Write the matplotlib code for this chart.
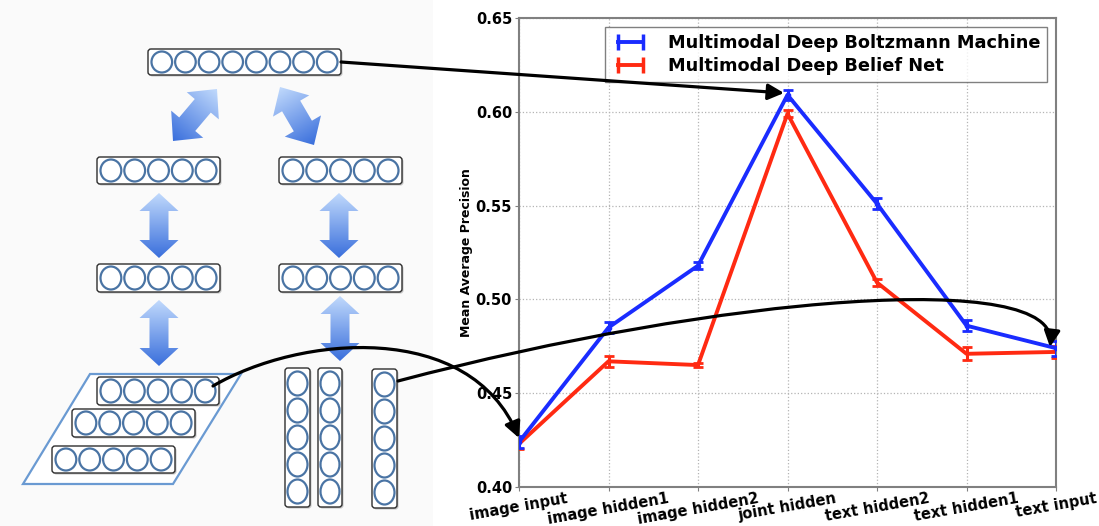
import numpy as np
import matplotlib
matplotlib.use("Agg")
import matplotlib.pyplot as plt
from matplotlib.patches import FancyBboxPatch, Ellipse, Polygon, Rectangle, FancyArrowPatch
from matplotlib.path import Path
from matplotlib.lines import Line2D
from matplotlib.colors import LinearSegmentedColormap

# data
layers = ["image input", "image hidden1", "image hidden2", "joint hidden",
          "text hidden2", "text hidden1", "text input"]
dbm_map = [0.424, 0.485, 0.518, 0.609, 0.551, 0.486, 0.474]
dbm_err = [0.003, 0.003, 0.002, 0.0025, 0.003, 0.003, 0.004]
dbn_map = [0.423, 0.467, 0.465, 0.599, 0.509, 0.471, 0.472]
dbn_err = [0.003, 0.003, 0.001, 0.002, 0.002, 0.0035, 0.003]
yticks = [0.40, 0.45, 0.50, 0.55, 0.60, 0.65]

W, H = 1099, 526
fig = plt.figure(figsize=(W / 100, H / 100), dpi=100)
fig.patch.set_facecolor("white")

blue, red = "#1a2cff", "#ff2a12"

# ---- chart on the right ----
ax = fig.add_axes([519 / W, 1 - 487 / H, (1056 - 519) / W, (487 - 18) / H])
x = np.arange(len(layers))
ax.errorbar(x, dbm_map, yerr=dbm_err, color=blue, lw=2.8, elinewidth=2.2,
            capsize=3.5, capthick=2, marker="o", markersize=3, zorder=4)
ax.errorbar(x, dbn_map, yerr=dbn_err, color=red, lw=2.8, elinewidth=2.2,
            capsize=3.5, capthick=2, zorder=3)
ax.set_xlim(0, len(layers) - 1)
ax.set_ylim(0.40, 0.65)
ax.set_yticks(yticks)
ax.set_yticklabels([f"{v:.2f}" for v in yticks], fontsize=10.5, fontweight="bold")
ax.set_xticks(x)
ax.set_xticklabels(layers, rotation=10, fontsize=10.5, fontweight="bold", ha="center")
ax.set_ylabel("Mean Average Precision", fontsize=9, fontweight="bold", labelpad=2)
ax.grid(True, linestyle=":", color="#b4b4b4", lw=0.9)
for s in ax.spines.values():
    s.set_color("#808080")
    s.set_linewidth(1.5)
ax.tick_params(length=3, color="#808080", pad=2)
ax.tick_params(axis="x", pad=0)

# legend handles drawn as |---| like the reference
h_dbm = Line2D([], [], color=blue, lw=2.8, marker="|", markersize=12, mew=2.5)
h_dbn = Line2D([], [], color=red, lw=2.8, marker="|", markersize=12, mew=2.5)
leg = ax.legend([h_dbm, h_dbn],
                ["Multimodal Deep Boltzmann Machine", "Multimodal Deep Belief Net"],
                loc="upper right", numpoints=2, prop={"weight": "bold", "size": 12.8},
                fancybox=False, borderaxespad=0.5, handlelength=2.0,
                handletextpad=1.1, borderpad=0.4, labelspacing=0.3)
leg.get_frame().set_edgecolor("#606060")
leg.get_frame().set_linewidth(1.0)

# ---- diagram overlay (pixel coordinates) ----
ov = fig.add_axes([0, 0, 1, 1], zorder=5)
ov.set_xlim(0, W)
ov.set_ylim(H, 0)
ov.axis("off")
ov.patch.set_alpha(0)
ov.add_patch(Rectangle((0, 0), 433, H, facecolor="#fafafa", edgecolor="none", zorder=0))

circ_col = "#4a74a4"


def unit_row(x0, y0, x1, y1, n, vertical=False):
    ov.add_patch(FancyBboxPatch((x0 + 1.5, y0 + 1.5), x1 - x0, y1 - y0,
                                boxstyle="round,pad=0,rounding_size=3",
                                facecolor="#c4c4c4", edgecolor="none", zorder=2))
    ov.add_patch(FancyBboxPatch((x0, y0), x1 - x0, y1 - y0,
                                boxstyle="round,pad=0,rounding_size=3",
                                facecolor="white", edgecolor="#2e2e2e", lw=1.0, zorder=3))
    if vertical:
        step = (y1 - y0 - 4) / n
        for i in range(n):
            cy = y0 + 2 + step * (i + 0.5)
            ov.add_patch(Ellipse(((x0 + x1) / 2, cy), (x1 - x0) - 5, step - 3,
                                 facecolor="white", edgecolor=circ_col, lw=1.6, zorder=4))
    else:
        step = (x1 - x0 - 4) / n
        for i in range(n):
            cx = x0 + 2 + step * (i + 0.5)
            ov.add_patch(Ellipse((cx, (y0 + y1) / 2), step - 3, (y1 - y0) - 5,
                                 facecolor="white", edgecolor=circ_col, lw=1.6, zorder=4))


grad_cmap = LinearSegmentedColormap.from_list("g", ["#c0d9fc", "#3a6fdc"])


def grad_arrow(p_light, p_dark, shaft=19, head=39, head_len=18):
    a = np.array(p_light, float)
    b = np.array(p_dark, float)
    d = b - a
    L = np.hypot(*d)
    u = d / L
    nrm = np.array([-u[1], u[0]])
    local = [(0, 0), (head_len, head / 2), (head_len, shaft / 2),
             (L - head_len, shaft / 2), (L - head_len, head / 2), (L, 0),
             (L - head_len, -head / 2), (L - head_len, -shaft / 2),
             (head_len, -shaft / 2), (head_len, -head / 2)]
    pts = np.array([a + s * u + t * nrm for s, t in local])
    poly = Polygon(pts, closed=True, facecolor="none", edgecolor="none")
    ov.add_patch(poly)
    xmin, ymin = pts.min(axis=0) - 2
    xmax, ymax = pts.max(axis=0) + 2
    gx, gy = np.meshgrid(np.linspace(xmin, xmax, 80), np.linspace(ymin, ymax, 80))
    t = ((gx - a[0]) * u[0] + (gy - a[1]) * u[1]) / L
    im = ov.imshow(np.clip(t, 0, 1), cmap=grad_cmap, vmin=0, vmax=1,
                   extent=(xmin, xmax, ymax, ymin), origin="upper",
                   interpolation="bilinear", zorder=2, aspect="auto")
    im.set_clip_path(poly)


# layers of units
unit_row(148, 49, 341, 75, 8)
unit_row(97, 157, 220, 184, 5)
unit_row(279, 157, 402, 184, 5)
unit_row(97, 264, 220, 292, 5)
unit_row(279, 264, 402, 292, 5)

# image plane
ov.add_patch(Polygon([(23, 484), (173, 484), (241, 374), (90, 374)], closed=True,
                     facecolor="white", edgecolor="#6a9ad2", lw=1.6, zorder=1))
unit_row(97, 377, 219, 405, 5)
unit_row(72, 409, 195, 437, 5)
unit_row(52, 446, 175, 473, 5)

# text columns
unit_row(285, 368, 310, 507, 5, vertical=True)
unit_row(318, 368, 342, 507, 5, vertical=True)
unit_row(372, 369, 397, 508, 5, vertical=True)

# gradient arrows
grad_arrow((217, 89), (173, 141), shaft=21, head=42, head_len=22)
grad_arrow((280, 87), (314, 145), shaft=21, head=42, head_len=22)
grad_arrow((159, 193), (159, 258))
grad_arrow((159, 300), (159, 366))
grad_arrow((339, 193), (339, 258))
grad_arrow((340, 296), (340, 361))

# connecting arrows
astyle = "-|>,head_length=0.8,head_width=0.4"
ov.add_patch(FancyArrowPatch((341, 62), (784, 93), arrowstyle=astyle,
                             mutation_scale=12, lw=2.3, color="black", zorder=6,
                             shrinkA=0, shrinkB=0))
p2 = Path([(213, 386), (300, 335), (470, 320), (519, 438)],
          [Path.MOVETO, Path.CURVE4, Path.CURVE4, Path.CURVE4])
ov.add_patch(FancyArrowPatch(path=p2, arrowstyle=astyle, mutation_scale=12,
                             lw=2.3, color="black", zorder=6))
p3 = Path([(398, 381), (720, 296), (1060, 268), (1050, 347)],
          [Path.MOVETO, Path.CURVE4, Path.CURVE4, Path.CURVE4])
ov.add_patch(FancyArrowPatch(path=p3, arrowstyle=astyle, mutation_scale=12,
                             lw=2.3, color="black", zorder=6))

fig.savefig("out.png", dpi=100)
